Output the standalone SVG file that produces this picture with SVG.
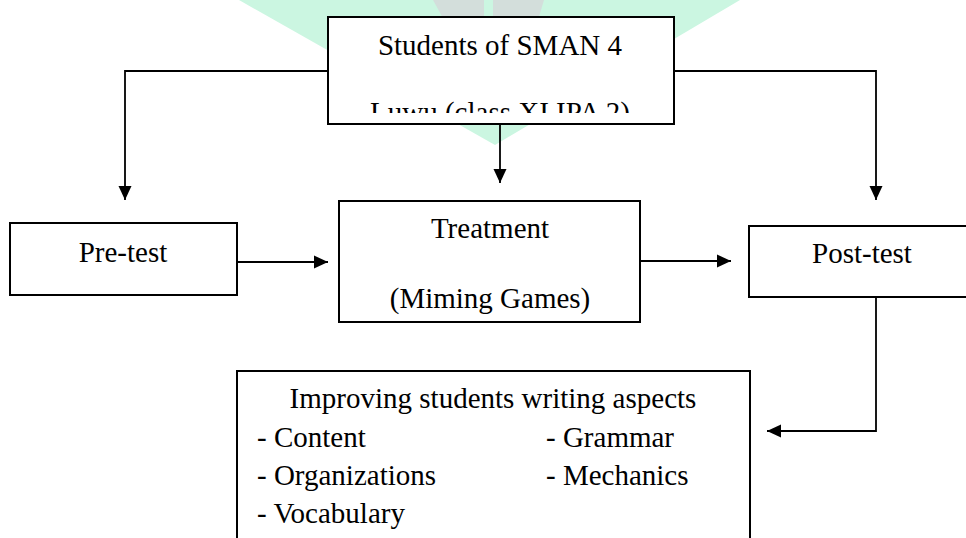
<svg xmlns="http://www.w3.org/2000/svg" width="966" height="538" viewBox="0 0 966 538">
  <style>
    .box { fill: #ffffff; stroke: #000000; stroke-width: 2; }
    .lbl { font-family: "Liberation Serif", "Times New Roman", serif; font-size: 29px; fill: #000000; }
    .mid { text-anchor: middle; }
    .conn { fill: none; stroke: #000000; stroke-width: 1.8; }
    .wm-g { fill: #cbf6e1; }
    .wm-s { fill: #d3dedb; }
  </style>
  <defs>
    <marker id="arrow" markerUnits="userSpaceOnUse" markerWidth="15" markerHeight="15" viewBox="0 0 15 15" refX="14" refY="7.5" orient="auto">
      <path d="M0,1 L14,7.5 L0,14 Z" fill="#000000"/>
    </marker>
    <clipPath id="clipTop">
      <rect x="328" y="17" width="346" height="96"/>
    </clipPath>
  </defs>

  <g id="watermark">
    <polygon class="wm-g" points="239,0 740,0 495,145"/>
    <polygon class="wm-s" points="433,0 484,0 484,40 455,40"/>
    <polygon class="wm-s" points="493,0 544,0 532,40 493,40"/>
  </g>

  <g id="connectors">
    <path class="conn" d="M328,71 H125 V200" marker-end="url(#arrow)"/>
    <path class="conn" d="M500,124 V183" marker-end="url(#arrow)"/>
    <path class="conn" d="M674,71 H876 V200" marker-end="url(#arrow)"/>
    <path class="conn" d="M237,262 H328" marker-end="url(#arrow)"/>
    <path class="conn" d="M640,261 H731" marker-end="url(#arrow)"/>
    <path class="conn" d="M876,297 V431 H767" marker-end="url(#arrow)"/>
  </g>

  <g id="students">
    <rect class="box" x="328" y="17" width="346" height="107"/>
    <text class="lbl mid" x="500" y="55">Students of SMAN 4</text>
    <text class="lbl mid" x="500" y="122" clip-path="url(#clipTop)">Luwu (class XI IPA 2)</text>
  </g>

  <g id="pretest">
    <rect class="box" x="10" y="223" width="227" height="72"/>
    <text class="lbl mid" x="123" y="262">Pre-test</text>
  </g>

  <g id="treatment">
    <rect class="box" x="339" y="201" width="301" height="121"/>
    <text class="lbl mid" x="490" y="238">Treatment</text>
    <text class="lbl mid" x="490" y="308">(Miming Games)</text>
  </g>

  <g id="posttest">
    <rect class="box" x="749" y="226" width="230" height="71"/>
    <text class="lbl" x="812" y="263">Post-test</text>
  </g>

  <g id="improving">
    <rect class="box" x="237" y="371" width="513" height="200"/>
    <text class="lbl mid" x="493" y="408">Improving students writing aspects</text>
    <text class="lbl" x="257" y="447">- Content</text>
    <text class="lbl" x="546" y="447">- Grammar</text>
    <text class="lbl" x="257" y="485">- Organizations</text>
    <text class="lbl" x="546" y="485">- Mechanics</text>
    <text class="lbl" x="257" y="523">- Vocabulary</text>
  </g>
</svg>
